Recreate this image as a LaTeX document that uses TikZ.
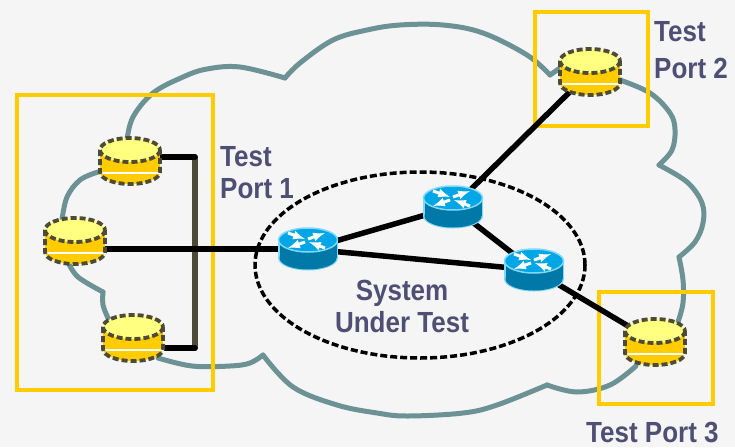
\documentclass[tikz,border=0pt]{standalone}
\usepackage{fontspec}
\usetikzlibrary{shapes.geometric}
\setmainfont{Liberation Sans}
\definecolor{paper}{HTML}{F5F5F5}
\definecolor{cloudline}{HTML}{6C9296}
\definecolor{portline}{HTML}{FFCC00}
\definecolor{disktop}{HTML}{FFFF80}
\definecolor{diskdash}{HTML}{4D4A35}
\definecolor{rtrtop}{HTML}{00A6E6}
\definecolor{rtrbody}{HTML}{0078A8}
\definecolor{rtredge}{HTML}{80D8FA}
\definecolor{caption}{HTML}{4F4F75}
\tikzset{
  devbox/.style={inner sep=0, minimum width=62, minimum height=46},
  portbox/.style={draw=portline, line width=3.5, inner sep=0},
  link/.style={line width=5.5, black},
  cloudseg/.style={line width=5, cloudline, line join=round, line cap=round},
  label/.style={font=\fontsize{26}{28}\selectfont\bfseries, text=caption, inner sep=0, align=left, yscale=1.12, transform shape},
}
\newcommand{\cloudpart}[1]{\draw[cloudseg] plot[smooth, tension=0.6] coordinates {#1};}
\begin{document}
\begin{tikzpicture}[x=1pt, y=-1pt]
  \useasboundingbox (0, 0) rectangle (735, 447);
  \fill[paper] (0, 0) rectangle (735, 447);
  % cloud
  \cloudpart{(127,140) (133,117) (153,93) (183,77) (207,69) (240,67) (285,78)}
  \cloudpart{(285,78) (300,63) (333,40) (367,30) (400,25) (443,25) (483,33) (527,55) (550,75)}
  \draw[cloudseg] (550,75) -- (560,68);
  \cloudpart{(620,80) (650,93) (670,113) (675,130) (672,150) (659,165)}
  \cloudpart{(659,165) (687,182) (702,203) (703,223) (695,242) (679,257)}
  \cloudpart{(679,257) (683,280) (683,303) (678,322)}
  \cloudpart{(636,366) (610,385) (577,392) (547,385)}
  \cloudpart{(547,385) (497,405) (463,413) (407,416) (377,413) (337,405) (293,387) (263,355)}
  \cloudpart{(263,355) (250,363) (230,366) (192,366) (158,358)}
  \cloudpart{(68,262) (78,277) (103,292)}
  \cloudpart{(103,292) (103,305) (108,318)}
  \cloudpart{(62,220) (67,197) (80,180) (98,172)}
  % device nodes
  \foreach \name/\x/\y in {dsk1/130/161, dsk2/75/241, dsk3/133/338, dsk4/590/72, dsk5/655/342}
    \node[devbox] (\name) at (\x, \y) {};
  \foreach \name/\x/\y in {rtr1/308/249, rtr2/453/207, rtr3/534/270}
    \node[devbox] (\name) at (\x, \y) {};
  % test ports
  \node[portbox, minimum width=196, minimum height=295] (port1) at (115, 242.5) {};
  \node[portbox, minimum width=113, minimum height=114] (port2) at (591.5, 69) {};
  \node[portbox, minimum width=114, minimum height=112] (port3) at (656, 348) {};
  \node[draw, black, line width=3.5, dash pattern=on 7 off 3, ellipse, minimum width=330, minimum height=186, inner sep=0] (sut) at (420, 265) {};
  % links
  \coordinate (brk1) at (195, 157);
  \coordinate (brk2) at (195, 348);
  \draw[link, diskdash, line cap=round] (brk1) -- (brk2);
  \draw[link, line cap=round] (dsk1 |- brk1) -- (brk1);
  \draw[link, line cap=round] (dsk3 |- brk2) -- (brk2);
  \draw[link] (dsk2 |- rtr1) -- (rtr1.center);
  \draw[link] (rtr1.center) -- (rtr2.center);
  \draw[link] (rtr1.center) -- (rtr3.center);
  \draw[link] (rtr2.center) -- (rtr3.center);
  \draw[link] (rtr2.center) -- (dsk4.center);
  \draw[link] (rtr3.center) -- (dsk5.center);
  % disks
  \foreach \name in {dsk1, dsk2, dsk3, dsk4, dsk5} {
    \begin{scope}[shift={(\name.center)}]
      \fill[portline] (-30, -11) rectangle (30, 11);
      \fill[portline] (0, 11) ellipse [x radius=30, y radius=12];
      \draw[white, line width=1.5] (-31, 12) -- (31, 12);
      \fill[disktop] (0, -11) ellipse [x radius=30, y radius=12];
      \draw[diskdash, line width=3.8, dash pattern=on 6 off 3] (0, -11) ellipse [x radius=30, y radius=12];
      \draw[diskdash, line width=3.8, dash pattern=on 6 off 3] (-30, -11) -- (-30, 11) arc [start angle=180, end angle=0, x radius=30, y radius=12] -- (30, -11);
    \end{scope}
  }
  % routers
  \foreach \name in {rtr1, rtr2, rtr3} {
    \begin{scope}[shift={(\name.center)}]
      \fill[rtredge] (-30, -9) rectangle (30, 9);
      \fill[rtredge] (0, 9) ellipse [x radius=30, y radius=12.5];
      \fill[rtrbody] (-28.5, -9) rectangle (28.5, 9);
      \fill[rtrbody] (0, 9) ellipse [x radius=28.5, y radius=11.5];
      \fill[rtrtop, draw=rtredge, line width=1.5] (0, -9) ellipse [x radius=29.5, y radius=12];
      \draw[white, line width=3, -latex] (0, -10) -- (17, -16);
      \draw[white, line width=3, -latex] (-20, -16) -- (-3, -10);
      \draw[white, line width=3, -latex] (-3, -7) -- (-20, -1);
      \draw[white, line width=3, -latex] (17, -1) -- (1, -7);
    \end{scope}
  }
  % labels
  \node[label, anchor=base west] (lbl1) at (220, 198) {Test\\Port 1};
  \node[label, anchor=base west] (lbl2) at (654, 78) {Test\\[5pt]Port 2};
  \node[label, anchor=base west] (lbl3) at (586, 442) {Test Port 3};
  \node[label, anchor=base, align=center] (lbl4) at (402, 332) {System\\Under Test};
\end{tikzpicture}
\end{document}
